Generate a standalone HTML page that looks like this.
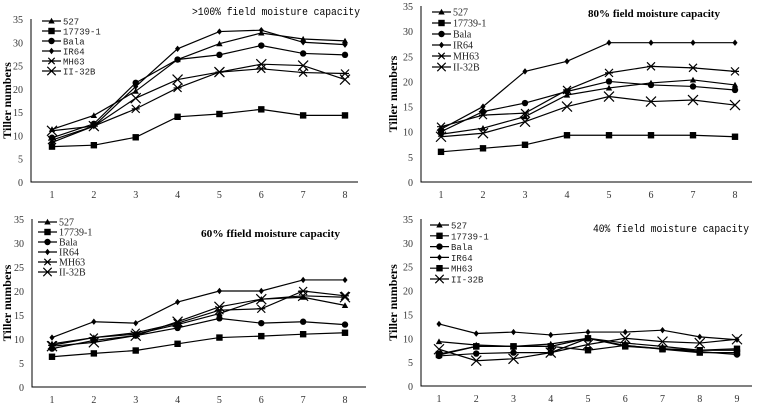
<!DOCTYPE html>
<html><head><meta charset="utf-8"><style>
body{margin:0;background:#fff;width:758px;height:403px;overflow:hidden}
svg{display:block}
</style></head><body>
<svg id="chart" width="758" height="403" xmlns="http://www.w3.org/2000/svg"></svg>
<script>
const seriesNames = ["527","17739-1","Bala","IR64","MH63","II-32B"];
const yTicks = [0,5,10,15,20,25,30,35];
const p1_527 = [11.3,14.3,19.5,26.3,29.7,32,30.7,30.3];
const p1_17739 = [7.6,7.9,9.6,14,14.6,15.6,14.3,14.3];
const p1_bala = [9.5,12.5,21.3,26.3,27.3,29.3,27.6,27.3];
const p1_ir64 = [8.5,12,20.5,28.6,32.3,32.6,30,29.5];
const p1_mh63 = [9,12,15.7,20.2,23.6,24.3,23.5,23.3];
const p1_ii32b = [11,12,18,22,23.6,25.3,25,22];
const p2_527 = [9.5,10.7,13,17.3,18.7,19.7,20.3,19.3];
const p2_17739 = [6,6.7,7.4,9.3,9.3,9.3,9.3,9];
const p2_bala = [10,14,15.7,18,20,19.3,19,18.3];
const p2_ir64 = [10.5,15,22,24,27.7,27.7,27.7,27.7];
const p2_mh63 = [11,13.3,13.7,18.3,21.7,23,22.7,22];
const p2_ii32b = [9,9.7,12,15,17,16,16.3,15.3];
const p3_527 = [9,10.3,11,13,15.3,18.3,18.7,17];
const p3_17739 = [6.3,7,7.6,9,10.3,10.6,11,11.3];
const p3_bala = [8,9.7,10.7,12.3,14.3,13.3,13.6,13];
const p3_ir64 = [10.3,13.6,13.3,17.7,20,20,22.3,22.3];
const p3_mh63 = [8.7,10.3,11.3,13.3,16,16.3,20,19];
const p3_ii32b = [8.5,9.3,10.7,13.6,16.7,18.3,19,18.7];
const p4_527 = [9.3,8.6,8.3,8.8,10,9,8.3,7.5,7.5];
const p4_17739 = [6.5,8.3,8.3,8.3,7.5,8.5,7.7,7,7];
const p4_bala = [6.3,6.8,7,7,10,8.5,7.8,7.2,6.6];
const p4_ir64 = [13,11,11.3,10.7,11.3,11.3,11.7,10.3,9.7];
const p4_mh63 = [6.7,8.3,8.3,8.3,10,8.3,7.8,7.5,7.8];
const p4_ii32b = [7.7,5.3,5.7,7,8.7,10,9.3,9,9.8];

const NS="http://www.w3.org/2000/svg";
const svg=document.getElementById('chart');
function mk(tag,attrs,parent){const e=document.createElementNS(NS,tag);for(const k in attrs)e.setAttribute(k,attrs[k]);(parent||svg).appendChild(e);return e;}
const mono='"Liberation Mono", "Noto Sans CJK SC", monospace';
const serif='"Liberation Serif", serif';
const markers=["tri","sq","circ","dia","star","x"];
const markers4=["tri","sq","circ","dia","sq","x"];
function marker(g,type,x,y,big){
  const s=big?4:3.2;
  if(type==="tri") mk('polygon',{points:`${x},${y-s} ${x-s},${y+s*0.8} ${x+s},${y+s*0.8}`,fill:'#000'},g);
  else if(type==="sq") mk('rect',{x:x-s,y:y-s,width:2*s,height:2*s,fill:'#000'},g);
  else if(type==="circ") mk('circle',{cx:x,cy:y,r:s,fill:'#000'},g);
  else if(type==="dia") mk('polygon',{points:`${x},${y-s} ${x+s*0.8},${y} ${x},${y+s} ${x-s*0.8},${y}`,fill:'#000'},g);
  else if(type==="star"){mk('path',{d:`M${x-s} ${y-s}L${x+s} ${y+s}M${x-s} ${y+s}L${x+s} ${y-s}M${x-s} ${y}L${x+s} ${y}`,stroke:'#000','stroke-width':1.2,fill:'none'},g);}
  else {mk('path',{d:`M${x-s-1} ${y-s-1}L${x+s+1} ${y+s+1}M${x-s-1} ${y+s+1}L${x+s+1} ${y-s-1}`,stroke:'#000','stroke-width':1.2,fill:'none'},g);}
}
function panel(cfg){
  const g=mk('g',{});
  
  
  const n=cfg.data[0].length;
  const xs=i=>cfg.x1+(cfg.xN-cfg.x1)*i/(n-1);
  const ys=v=>cfg.y0-(cfg.y0-cfg.y35)*v/35;
  const ax=mk('path',{d:`M${cfg.ax} ${cfg.y35}V${cfg.y0}H${cfg.axEnd}`,stroke:'#000','stroke-width':1,fill:'none'},g);
  
  
  yTicks.forEach(t=>{const tx=mk('text',{x:cfg.ax-8,y:ys(t)+4,'text-anchor':'end','font-family':serif,'font-size':10,fill:'#333'},g);tx.textContent=t;
    
    });
  for(let i=0;i<n;i++){const tx=mk('text',{x:xs(i),y:cfg.y0+16,'text-anchor':'middle','font-family':serif,'font-size':10,fill:'#333'},g);tx.textContent=i+1;
    
    }
  const yl=mk('text',{x:0,y:0,transform:`translate(${cfg.ylx},${(cfg.y0+cfg.y35)/2}) rotate(-90)`,'text-anchor':'middle','font-family':serif,'font-size':12,'font-weight':'bold'},g);
  yl.textContent='Tiller numbers';
  
  
  const tt=mk('text',{x:cfg.tx,y:cfg.ty,'font-family':cfg.tfont,'font-size':cfg.tsize,'font-weight':cfg.tbold?'bold':'normal','xml:space':'preserve',textLength:cfg.tlen,lengthAdjust:'spacingAndGlyphs'},g);
  tt.textContent=cfg.title;
  
  
  cfg.data.forEach((arr,si)=>{
    const sg=mk('g',{},g);
    
    
    mk('polyline',{points:arr.map((v,i)=>xs(i)+','+ys(v)).join(' '),fill:'none',stroke:'#000','stroke-width':1.2},sg);
    arr.forEach((v,i)=>marker(sg,cfg.markers[si],xs(i),ys(v),cfg.markers[si]==="x"||cfg.markers[si]==="star"));
    const ly=cfg.ly+si*cfg.lstep;
    const lg=mk('g',{},g);
    
    
    mk('line',{x1:cfg.lx,y1:ly,x2:cfg.lx+19,y2:ly,stroke:'#000','stroke-width':1.2},lg);
    marker(lg,cfg.markers[si],cfg.lx+9.5,ly,false);
    const lt=mk('text',{x:cfg.lx+21,y:ly+3.5,'font-family':cfg.lfont,'font-size':cfg.lsize,fill:'#222'},lg);
    lt.textContent=seriesNames[si];
  });
}
panel({name:'panel-100',data:[p1_527,p1_17739,p1_bala,p1_ir64,p1_mh63,p1_ii32b],markers:markers,
  ax:31,axEnd:358,y0:182,y35:19,x1:52,xN:345,ylx:11,title:'>100%  field moisture capacity',tx:192,ty:15,tlen:168,tfont:mono,tsize:11,tbold:false,
  lx:42,ly:21,lstep:10,lfont:mono,lsize:9});
panel({name:'panel-80',data:[p2_527,p2_17739,p2_bala,p2_ir64,p2_mh63,p2_ii32b],markers:markers,
  ax:421,axEnd:752,y0:182,y35:6,x1:441,xN:735,ylx:397,title:'80% field moisture capacity',tx:588,ty:17,tlen:132,tfont:serif,tsize:11,tbold:true,
  lx:432,ly:12,lstep:11,lfont:serif,lsize:10});
panel({name:'panel-60',data:[p3_527,p3_17739,p3_bala,p3_ir64,p3_mh63,p3_ii32b],markers:markers,
  ax:32,axEnd:366,y0:387,y35:219,x1:52,xN:345,ylx:11,title:'60%  ffield moisture capacity',tx:201,ty:237,tlen:139,tfont:serif,tsize:11,tbold:true,
  lx:38,ly:222,lstep:10,lfont:serif,lsize:10});
panel({name:'panel-40',data:[p4_527,p4_17739,p4_bala,p4_ir64,p4_mh63,p4_ii32b],markers:markers4,
  ax:421,axEnd:752,y0:386,y35:219,x1:439,xN:737,ylx:397,title:'40%  field moisture capacity',tx:593,ty:232,tlen:156,tfont:mono,tsize:11,tbold:false,
  lx:430,ly:225,lstep:10.8,lfont:mono,lsize:9});
</script>
</body></html>
